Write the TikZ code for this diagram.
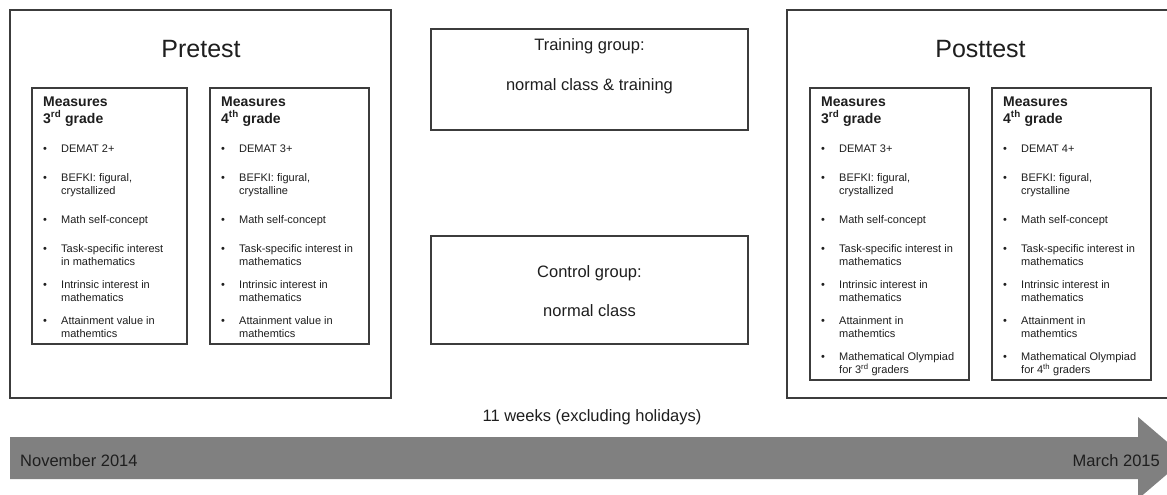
\documentclass[tikz,border=0pt]{standalone}
\usepackage{fontspec}
\setmainfont{Liberation Sans}
\definecolor{linecol}{HTML}{3C3C3C}
\definecolor{textcol}{HTML}{1E1E1E}
\definecolor{arrowcol}{HTML}{808080}
\newcommand\itab[1]{\begin{tabular}[t]{@{}p{18pt}@{}l@{}}#1\end{tabular}}
\begin{document}
\begin{tikzpicture}[x=1pt,y=-1pt,
  box/.style={draw=linecol, line width=1.2pt, rectangle, inner sep=0pt},
  ttl/.style={font=\fontsize{25}{30}\selectfont, text=textcol, anchor=base, inner sep=0pt},
  grp/.style={font=\fontsize{16.5}{20}\selectfont, text=textcol, anchor=base, inner sep=0pt},
  meas/.style={font=\fontsize{14}{17}\selectfont\bfseries, text=textcol, anchor=base west, inner sep=0pt, align=left},
  itm/.style={font=\fontsize{11}{13}\selectfont, text=textcol, anchor=base west, inner sep=0pt}]
\useasboundingbox (0,0) rectangle (1167,495);
\fill[white] (0,0) rectangle (1167,495);

% boxes
\node[box, minimum width=381pt, minimum height=388pt] (pre) at (200.5,204) {};
\node[box, minimum width=155pt, minimum height=256pt] (preA) at (109.5,216) {};
\node[box, minimum width=159pt, minimum height=256pt] (preB) at (289.5,216) {};
\node[box, minimum width=317pt, minimum height=101pt] (train) at (589.5,79.5) {};
\node[box, minimum width=317pt, minimum height=108pt] (ctrl) at (589.5,290) {};
\node[box, minimum width=385pt, minimum height=388pt] (post) at (979.5,204) {};
\node[box, minimum width=159pt, minimum height=292pt] (postA) at (889.5,234) {};
\node[box, minimum width=159pt, minimum height=292pt] (postB) at (1071.5,234) {};

% titles
\node[ttl] (preT) at (201,58) {Pretest};
\node[ttl] (postT) at (980.5,58) {Posttest};
\node[grp] (trainT1) at (589.5,51) {Training group:};
\node[grp] (trainT2) at (589.5,90) {normal class \& training};
\node[grp] (ctrlT1) at (589.5,277) {Control group:};
\node[grp] (ctrlT2) at (589.5,316) {normal class};

% measures headings (base anchor = last line)
\node[meas] (preAh) at (43,123) {Measures\\3\textsuperscript{rd} grade};
\node[meas] (preBh) at (221,123) {Measures\\4\textsuperscript{th} grade};
\node[meas] (postAh) at (821,123) {Measures\\3\textsuperscript{rd} grade};
\node[meas] (postBh) at (1003,123) {Measures\\4\textsuperscript{th} grade};

% pretest 3rd grade
\node[itm] (pa1) at (43,152) {\itab{•&DEMAT 2+}};
\node[itm] (pa2) at (43,181) {\itab{•&BEFKI: figural,\\&crystallized}};
\node[itm] (pa3) at (43,223) {\itab{•&Math self-concept}};
\node[itm] (pa4) at (43,252) {\itab{•&Task-specific interest\\&in mathematics}};
\node[itm] (pa5) at (43,288) {\itab{•&Intrinsic interest in\\&mathematics}};
\node[itm] (pa6) at (43,324) {\itab{•&Attainment value in\\&mathemtics}};

% pretest 4th grade
\node[itm] (pb1) at (221,152) {\itab{•&DEMAT 3+}};
\node[itm] (pb2) at (221,181) {\itab{•&BEFKI: figural,\\&crystalline}};
\node[itm] (pb3) at (221,223) {\itab{•&Math self-concept}};
\node[itm] (pb4) at (221,252) {\itab{•&Task-specific interest in\\&mathematics}};
\node[itm] (pb5) at (221,288) {\itab{•&Intrinsic interest in\\&mathematics}};
\node[itm] (pb6) at (221,324) {\itab{•&Attainment value in\\&mathemtics}};

% posttest 3rd grade
\node[itm] (qa1) at (821,152) {\itab{•&DEMAT 3+}};
\node[itm] (qa2) at (821,181) {\itab{•&BEFKI: figural,\\&crystallized}};
\node[itm] (qa3) at (821,223) {\itab{•&Math self-concept}};
\node[itm] (qa4) at (821,252) {\itab{•&Task-specific interest in\\&mathematics}};
\node[itm] (qa5) at (821,288) {\itab{•&Intrinsic interest in\\&mathematics}};
\node[itm] (qa6) at (821,324) {\itab{•&Attainment in\\&mathemtics}};
\node[itm] (qa7) at (821,360) {\itab{•&Mathematical Olympiad\\&for 3\textsuperscript{rd} graders}};

% posttest 4th grade
\node[itm] (qb1) at (1003,152) {\itab{•&DEMAT 4+}};
\node[itm] (qb2) at (1003,181) {\itab{•&BEFKI: figural,\\&crystalline}};
\node[itm] (qb3) at (1003,223) {\itab{•&Math self-concept}};
\node[itm] (qb4) at (1003,252) {\itab{•&Task-specific interest in\\&mathematics}};
\node[itm] (qb5) at (1003,288) {\itab{•&Intrinsic interest in\\&mathematics}};
\node[itm] (qb6) at (1003,324) {\itab{•&Attainment in\\&mathemtics}};
\node[itm] (qb7) at (1003,360) {\itab{•&Mathematical Olympiad\\&for 4\textsuperscript{th} graders}};

% timeline
\node[grp] (weeks) at (592,421) {11 weeks (excluding holidays)};
\fill[arrowcol] (10,437) -- (1138,437) -- (1138,417) -- (1186,458) -- (1138,499) -- (1138,479) -- (10,479) -- cycle;
\node[grp, anchor=base west] (nov) at (20,466) {November 2014};
\node[grp, anchor=base east] (mar) at (1160,466) {March 2015};
\end{tikzpicture}
\end{document}
